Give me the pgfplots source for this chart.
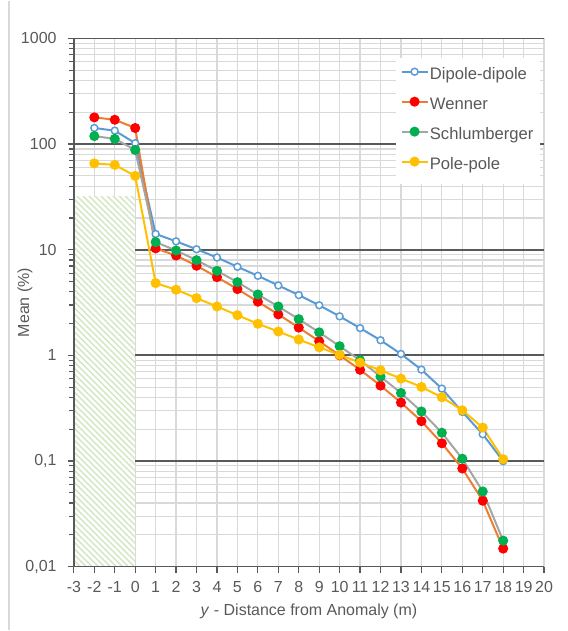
\documentclass[border=0pt]{standalone}
\usepackage{fontspec}
\setmainfont{Liberation Sans}
\usepackage{pgfplots}
\pgfplotsset{compat=1.18}
\usetikzlibrary{patterns.meta}
\definecolor{dipole}{HTML}{5B9BD5}
\definecolor{wennerline}{HTML}{ED7D31}
\definecolor{wennermark}{HTML}{FF0000}
\definecolor{schline}{HTML}{A5A5A5}
\definecolor{schmark}{HTML}{00B050}
\definecolor{pole}{HTML}{FFC000}
\definecolor{txt}{HTML}{595959}
\definecolor{gridl}{HTML}{D9D9D9}
\definecolor{hatch}{HTML}{D5E8C6}

\pgfplotstableread{
x dip wen sch pol
-2 142 179 119 65.7
-1 134 170 112 63.5
0 102 142 88 50
1 14.1 10.3 11.8 4.83
2 12.0 8.81 9.83 4.18
3 10.1 7.05 7.96 3.48
4 8.44 5.50 6.31 2.90
5 6.89 4.24 4.93 2.40
6 5.66 3.22 3.77 1.99
7 4.59 2.44 2.90 1.68
8 3.72 1.83 2.20 1.41
9 2.98 1.36 1.65 1.19
10 2.34 1.00 1.22 1.01
11 1.81 0.73 0.897 0.853
12 1.39 0.517 0.629 0.722
13 1.03 0.357 0.440 0.602
14 0.732 0.238 0.294 0.502
15 0.484 0.147 0.185 0.401
16 0.291 0.0849 0.105 0.302
17 0.179 0.042 0.0514 0.207
18 0.0996 0.0148 0.0176 0.104
}\datatable

\begin{document}
\begin{tikzpicture}
\path (-55.5pt,-48pt) rectangle (370.5pt,425.25pt);
\draw[gridl, line width=0.8pt] (-48.75pt,-48pt) -- (-48.75pt,425.25pt);
\begin{axis}[
  at={(0pt,0pt)}, anchor=south west,
  scale only axis,
  width=353.25pt, height=396.75pt,
  ymode=log,
  xmin=-3, xmax=20, ymin=0.01, ymax=1000,
  xtick={-3,-2,...,20},
  xticklabels={-3,-2,-1,0,1,2,3,4,5,6,7,8,9,10,11,12,13,14,15,16,17,18,19,20},
  ytick={0.01,0.1,1,10,100,1000},
  yticklabels={{0,01},{0,1},1,10,100,1000},
  axis line style={draw=none},
  xtick pos=left, ytick pos=left,
  tick align=outside,
  major tick length=4.5pt, minor tick length=3.5pt,
  tick style={draw=txt, line width=0.9pt},
  xmajorgrids, ymajorgrids, yminorgrids,
  major x grid style={gridl, line width=0.9pt},
  major y grid style={txt, line width=1.3pt},
  minor y grid style={gridl, line width=0.9pt},
  tick label style={font=\fontsize{12}{14}\selectfont, text=txt},
  xticklabel style={inner xsep=0pt, yshift=-3pt},
  yticklabel style={xshift=-5pt},
  label style={font=\fontsize{12}{14}\selectfont, text=txt},
  xlabel={\textit{y} - Distance from Anomaly (m)},
  ylabel={Mean (\%)},
  xlabel style={at={(axis description cs:0.5,-0.0851)}, anchor=center},
  ylabel style={at={(axis description cs:-0.104,0.5)}, anchor=center},
  legend style={at={(0.6837,0.964)}, anchor=north west, draw=none, fill=white,
    font=\fontsize{12.5}{14}\selectfont, text=txt, inner xsep=3.75pt, inner ysep=7.5pt,
    row sep=10.5pt,
    nodes={text height=9pt, text depth=3pt, inner ysep=0pt, inner xsep=1pt},
    cells={anchor=west}},
  legend image code/.code={
    \draw[#1, mark repeat=2, mark phase=2] plot coordinates {(0pt,3pt)(9.75pt,3pt)(19.5pt,3pt)};
  },
  clip=false,
]
\addplot[draw=none, fill=white, forget plot] coordinates {(-2.97,0.0101) (0,0.0101) (0,31.6) (-2.97,31.6)} -- cycle;
\addplot[draw=none, pattern={Lines[angle=-45, distance=3.2pt, line width=1.2pt]}, pattern color=hatch, forget plot] coordinates {(-2.97,0.0101) (0,0.0101) (0,31.6) (-2.97,31.6)} -- cycle;
\draw[txt, line width=1.2pt] (rel axis cs:0,1) -- (rel axis cs:0,0) -- (rel axis cs:1,0);
\pgfplotsinvokeforeach{-3,...,20}{
  \draw[txt, line width=0.9pt] (axis cs:#1,0.01) -- ++(0pt,-4.5pt);
}
\pgfplotsinvokeforeach{-2,...,3}{
  \draw[txt, line width=0.9pt] (axis cs:-3,1e#1) -- ++(-4.5pt,0pt);
}
\pgfplotsinvokeforeach{-2,...,2}{
  \draw[txt, line width=0.8pt] (axis cs:-3,2e#1) -- ++(-3.5pt,0pt);
  \draw[txt, line width=0.8pt] (axis cs:-3,3e#1) -- ++(-3.5pt,0pt);
  \draw[txt, line width=0.8pt] (axis cs:-3,4e#1) -- ++(-3.5pt,0pt);
  \draw[txt, line width=0.8pt] (axis cs:-3,5e#1) -- ++(-3.5pt,0pt);
  \draw[txt, line width=0.8pt] (axis cs:-3,6e#1) -- ++(-3.5pt,0pt);
  \draw[txt, line width=0.8pt] (axis cs:-3,7e#1) -- ++(-3.5pt,0pt);
  \draw[txt, line width=0.8pt] (axis cs:-3,8e#1) -- ++(-3.5pt,0pt);
  \draw[txt, line width=0.8pt] (axis cs:-3,9e#1) -- ++(-3.5pt,0pt);
}
\addplot[dipole, line width=1.5pt, mark=*, mark size=2.6pt, mark options={fill=white, draw=dipole, line width=1.1pt}] table[x=x, y=dip] {\datatable};
\addlegendentry{Dipole-dipole}
\addplot[wennerline, line width=1.5pt, mark=*, mark size=3pt, mark options={fill=wennermark, draw=wennermark}] table[x=x, y=wen] {\datatable};
\addlegendentry{Wenner}
\addplot[schline, line width=1.5pt, mark=*, mark size=3pt, mark options={fill=schmark, draw=schmark}] table[x=x, y=sch] {\datatable};
\addlegendentry{Schlumberger}
\addplot[pole, line width=1.5pt, mark=*, mark size=3pt, mark options={fill=pole, draw=pole}] table[x=x, y=pol] {\datatable};
\addlegendentry{Pole-pole}
\end{axis}
\end{tikzpicture}
\end{document}
